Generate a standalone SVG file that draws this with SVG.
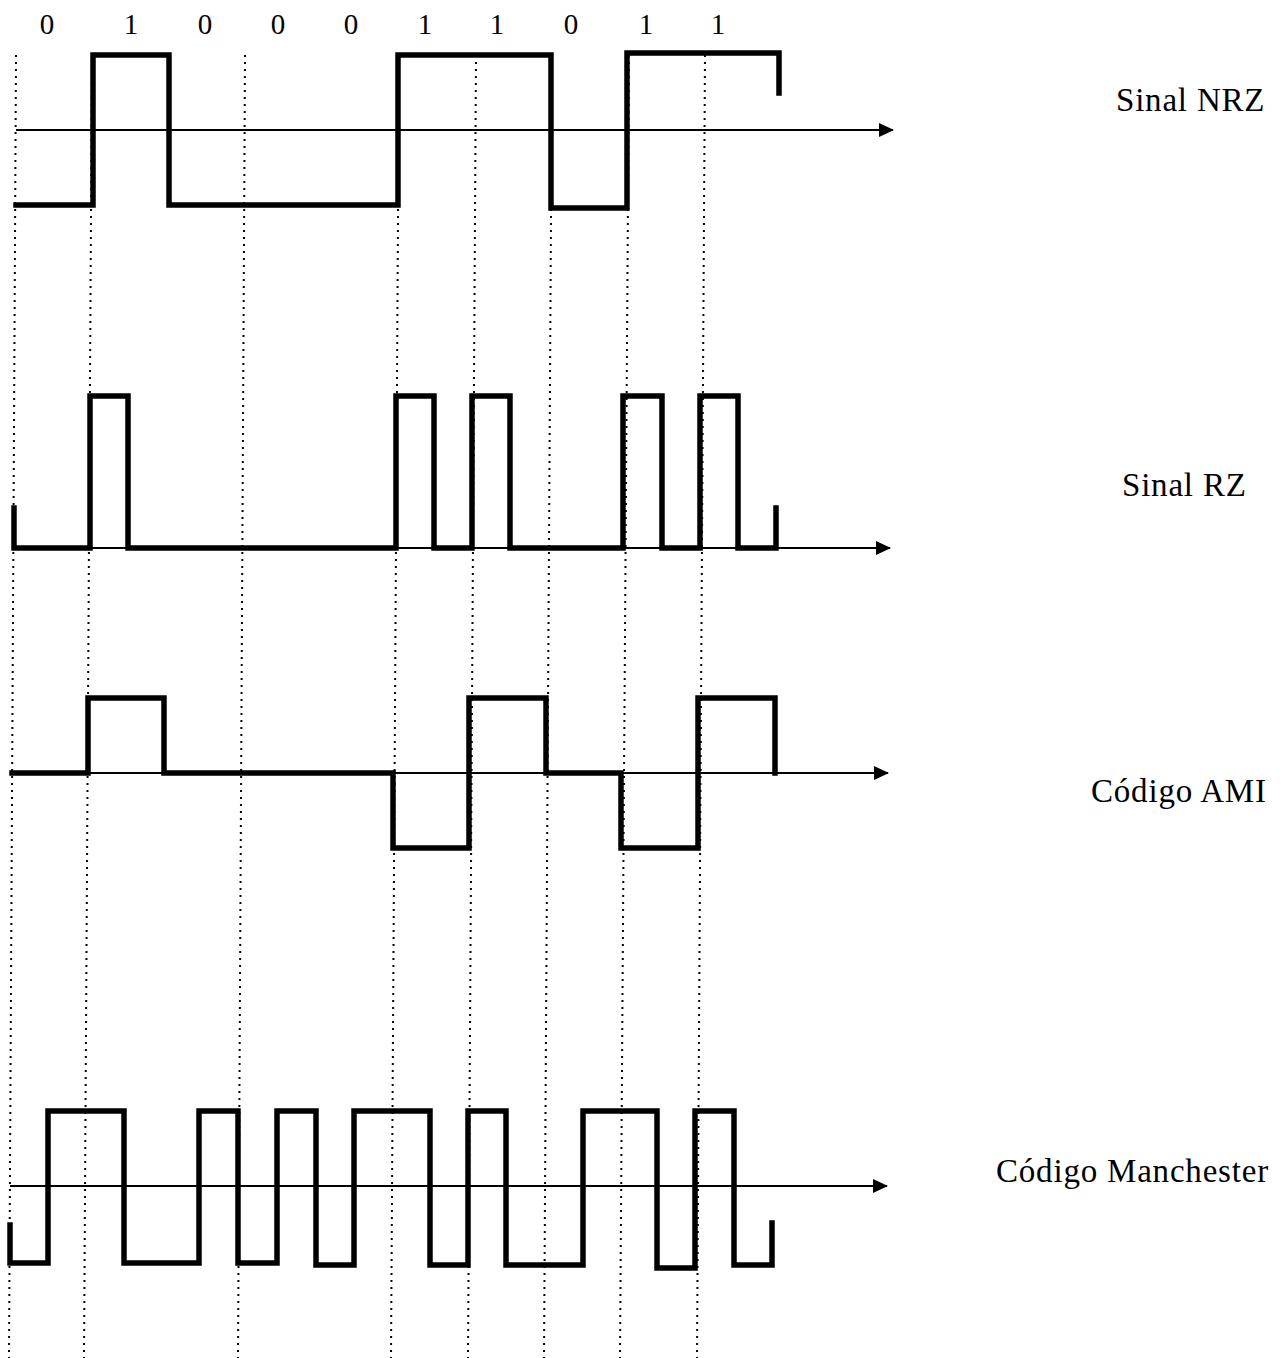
<svg xmlns="http://www.w3.org/2000/svg" width="1284" height="1358" viewBox="0 0 1284 1358">
<style>
.grid{stroke:#000;stroke-width:2;stroke-dasharray:2 5;fill:none}
.axis{stroke:#000;stroke-width:2;fill:none}
.wave{stroke:#000;stroke-width:5.5;fill:none;stroke-linejoin:miter;stroke-linecap:square}
.bit{font-family:"Liberation Serif",serif;font-size:29px;fill:#000;text-anchor:middle}
.lbl{font-family:"Liberation Serif",serif;font-size:33px;fill:#000;letter-spacing:0.8px}
</style>
<defs>
<marker id="arr" markerWidth="16" markerHeight="14" refX="14" refY="7" orient="auto" markerUnits="userSpaceOnUse">
<path d="M0,0 L15,7 L0,14 Z" fill="#000"/>
</marker>
</defs>
<rect width="1284" height="1358" fill="#fff"/>
<g id="bits">
<text class="bit" x="47" y="34">0</text>
<text class="bit" x="131" y="34">1</text>
<text class="bit" x="205" y="34">0</text>
<text class="bit" x="278" y="34">0</text>
<text class="bit" x="351" y="34">0</text>
<text class="bit" x="425" y="34">1</text>
<text class="bit" x="497" y="34">1</text>
<text class="bit" x="571" y="34">0</text>
<text class="bit" x="646" y="34">1</text>
<text class="bit" x="718" y="34">1</text>
</g>
<g id="grid">
<line class="grid" x1="16" y1="55" x2="9" y2="1358"/>
<line class="grid" x1="92" y1="55" x2="84" y2="1358"/>
<line class="grid" x1="245" y1="55" x2="238" y2="1358"/>
<line class="grid" x1="399" y1="55" x2="391" y2="1358"/>
<line class="grid" x1="476" y1="55" x2="468" y2="1358"/>
<line class="grid" x1="552" y1="55" x2="544" y2="1358"/>
<line class="grid" x1="629" y1="55" x2="620" y2="1358"/>
<line class="grid" x1="705" y1="55" x2="697" y2="1358"/>
</g>
<g id="connectors">
<line class="axis" x1="16" y1="130" x2="893" y2="130" marker-end="url(#arr)"/>
<line class="axis" x1="14" y1="548" x2="890" y2="548" marker-end="url(#arr)"/>
<line class="axis" x1="12" y1="773" x2="888" y2="773" marker-end="url(#arr)"/>
<line class="axis" x1="10" y1="1186" x2="887" y2="1186" marker-end="url(#arr)"/>
</g>
<g id="nrz">
<path class="wave" d="M16,205 H93 V55 H169 V205 H398 V55 H551 V208 H627 V53 H779 V93"/>
<text class="lbl" x="1116" y="111">Sinal NRZ</text>
</g>
<g id="rz">
<path class="wave" d="M14,508 V548 H90 V396 H128 V548 H396 V396 H434 V548 H472 V396 H510 V548 H623 V396 H662 V548 H700 V396 H738 V548 H776 V508"/>
<text class="lbl" x="1122" y="496">Sinal RZ</text>
</g>
<g id="ami">
<path class="wave" d="M12,773 H88 V698 H164 V773 H393 V848 H469 V698 H546 V773 H621 V848 H698 V698 H775 V773"/>
<text class="lbl" x="1091" y="802">Código AMI</text>
</g>
<g id="manchester">
<path class="wave" d="M10,1225 V1263 H48 V1111 H124 V1263 H199 V1111 H238 V1263 H277 V1111 H316 V1265 H354 V1111 H430 V1265 H468 V1111 H506 V1265 H583 V1111 H657 V1268 H695 V1111 H734 V1265 H772 V1223"/>
<text class="lbl" x="996" y="1182">Código Manchester</text>
</g>
</svg>
